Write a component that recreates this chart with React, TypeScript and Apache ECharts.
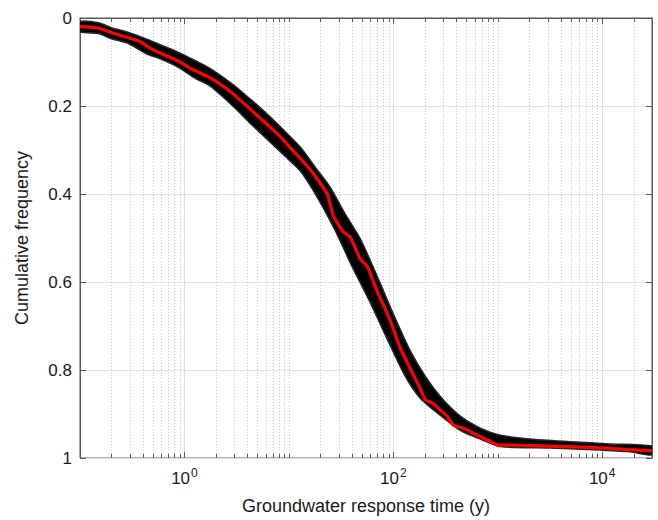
import React, { useEffect, useRef } from 'react';
import * as echarts from 'echarts';

// Median curve (red)
const redX = [0.1, 0.15, 0.2, 0.291, 0.379, 0.45, 0.589, 0.857, 1.22, 1.77, 2.58, 3.67, 5.34, 7.76, 11.0, 16.1, 23.4, 26.7, 33.2, 38.8, 48.3, 56.4, 70.3, 87.6, 100, 117, 145, 181, 202, 241, 282, 329, 375, 467, 637, 794, 989, 1641, 3179, 9570, 30000];
const redY = [0.019, 0.023, 0.033, 0.045, 0.054, 0.066, 0.080, 0.097, 0.118, 0.136, 0.162, 0.193, 0.228, 0.263, 0.302, 0.345, 0.400, 0.450, 0.486, 0.498, 0.548, 0.565, 0.622, 0.672, 0.706, 0.751, 0.796, 0.842, 0.867, 0.876, 0.891, 0.905, 0.925, 0.932, 0.948, 0.959, 0.970, 0.971, 0.973, 0.977, 0.984];

// Ensemble envelope (black band): upper edge and lower edge
const bandTopX = [0.1, 0.15, 0.2, 0.291, 0.423, 0.603, 0.876, 1.27, 1.77, 2.94, 4.3, 6.23, 9, 12.9, 18, 24.9, 34.7, 48.3, 71.8, 104.5, 145, 202, 282, 438, 680, 1057, 2046, 4940, 11900, 30000];
const bandTopY = [0.008, 0.011, 0.022, 0.033, 0.047, 0.062, 0.078, 0.097, 0.115, 0.152, 0.185, 0.219, 0.256, 0.294, 0.340, 0.385, 0.446, 0.502, 0.593, 0.683, 0.756, 0.814, 0.860, 0.905, 0.932, 0.948, 0.957, 0.963, 0.968, 0.973];
const bandBotX = [0.1, 0.15, 0.2, 0.291, 0.423, 0.603, 0.876, 1.27, 1.77, 2.94, 4.3, 6.23, 9, 12.9, 19.2, 27.9, 40.5, 60.2, 89.6, 130, 181, 282, 438, 680, 1057, 3179, 9570, 18500, 30000];
const bandBotY = [0.031, 0.035, 0.047, 0.058, 0.080, 0.094, 0.112, 0.137, 0.155, 0.201, 0.240, 0.276, 0.312, 0.348, 0.412, 0.484, 0.566, 0.647, 0.735, 0.814, 0.864, 0.903, 0.937, 0.957, 0.974, 0.977, 0.982, 0.986, 0.993];

// Axis decoration
const xMajorTicks = [1, 100, 10000];
const xMinorTicks = [0.2, 0.3, 0.4, 0.5, 0.6, 0.7, 0.8, 0.9, 2, 3, 4, 5, 6, 7, 8, 9, 10, 20, 30, 40, 50, 60, 70, 80, 90, 200, 300, 400, 500, 600, 700, 800, 900, 1000, 2000, 3000, 4000, 5000, 6000, 7000, 8000, 9000, 20000];
const yTicks = [0, 0.2, 0.4, 0.6, 0.8, 1];

const FONT = '"Liberation Sans", Arial, Helvetica, sans-serif';
const AXIS_COLOR = '#5a5a5a';

export default function App() {
  const ref = useRef<HTMLDivElement>(null);
  useEffect(() => {
    if (!ref.current) return;
    const chart = echarts.init(ref.current, null, { renderer: 'svg' });
    const gridData = [
      ...xMajorTicks.map((v) => [v, 1]),
      ...xMinorTicks.map((v) => [v, 0]),
    ];
    const option: any = {
      animation: false,
      backgroundColor: '#ffffff',
      textStyle: { fontFamily: FONT },
      grid: {
        left: 80,
        right: 6,
        top: 18,
        bottom: 60,
        show: true,
        borderColor: AXIS_COLOR,
        borderWidth: 1,
        backgroundColor: 'transparent',
      },
      xAxis: {
        type: 'log',
        logBase: 10,
        min: 0.1,
        max: 30000,
        name: 'Groundwater response time (y)',
        nameLocation: 'middle',
        nameGap: 39,
        nameTextStyle: { fontSize: 18, color: '#1a1a1a', fontFamily: FONT },
        axisLine: { show: true, lineStyle: { color: AXIS_COLOR, width: 1 } },
        axisTick: { show: false },
        splitLine: { show: false },
        minorTick: { show: false },
        axisLabel: {
          margin: 9,
          verticalAlign: 'top',
          color: '#1a1a1a',
          fontFamily: FONT,
          formatter: (v: number) => {
            const l = Math.log10(v);
            const e = Math.round(l);
            if (Math.abs(l - e) < 1e-6 && e >= 0 && e % 2 === 0) return `{b|10}{s|${e}}`;
            return '';
          },
          rich: {
            b: { fontSize: 17, fontFamily: FONT, color: '#1a1a1a', lineHeight: 22 },
            s: { fontSize: 12, fontFamily: FONT, color: '#1a1a1a', lineHeight: 12, verticalAlign: 'top', padding: [0, 0, 0, 1] },
          },
        },
      },
      yAxis: [
        {
          type: 'value',
          inverse: true,
          min: 0,
          max: 1,
          interval: 0.2,
          name: 'Cumulative frequency',
          nameLocation: 'middle',
          nameGap: 49,
          nameTextStyle: { fontSize: 18, color: '#1a1a1a', fontFamily: FONT },
          axisLine: { show: true, lineStyle: { color: AXIS_COLOR, width: 1 } },
          axisTick: { show: true, inside: true, length: 6, lineStyle: { color: AXIS_COLOR } },
          axisLabel: {
            margin: 8,
            fontSize: 17,
            color: '#1a1a1a',
            fontFamily: FONT,
            formatter: (v: number) => (yTicks.indexOf(Math.round(v * 10) / 10) >= 0 ? String(Math.round(v * 10) / 10) : ''),
          },
          splitLine: { show: true, lineStyle: { color: '#e2e2e2', width: 1 } },
        },
        {
          type: 'value',
          inverse: true,
          min: 0,
          max: 1,
          interval: 0.2,
          position: 'right',
          axisLine: { show: true, lineStyle: { color: AXIS_COLOR, width: 1 } },
          axisTick: { show: true, inside: true, length: 6, lineStyle: { color: AXIS_COLOR } },
          axisLabel: { show: false },
          splitLine: { show: false },
        },
      ],
      series: [
        {
          type: 'custom',
          name: 'xgrid',
          z: 1,
          silent: true,
          data: gridData,
          encode: { x: 0 },
          renderItem: (params: any, api: any) => {
            const v = api.value(0);
            const major = api.value(1) === 1;
            const top = api.coord([v, 0]);
            const bot = api.coord([v, 1]);
            const x = Math.round(top[0]) + 0.5;
            const tl = major ? 6 : 4;
            return {
              type: 'group',
              children: [
                {
                  type: 'line',
                  shape: { x1: x, y1: top[1], x2: x, y2: bot[1] },
                  style: major
                    ? { stroke: '#dedede', lineWidth: 1 }
                    : { stroke: '#c6c6c6', lineWidth: 1, lineDash: [1, 2] },
                },
                { type: 'line', shape: { x1: x, y1: bot[1], x2: x, y2: bot[1] - tl }, style: { stroke: AXIS_COLOR, lineWidth: 1 } },
                { type: 'line', shape: { x1: x, y1: top[1], x2: x, y2: top[1] + tl }, style: { stroke: AXIS_COLOR, lineWidth: 1 } },
              ],
            };
          },
        },
        {
          type: 'custom',
          name: 'ensemble',
          z: 2,
          silent: true,
          clip: true,
          data: [[1, 0.5]],
          renderItem: (params: any, api: any) => {
            const pts: number[][] = [];
            for (let i = 0; i < bandTopX.length; i++) pts.push(api.coord([bandTopX[i], bandTopY[i]]));
            for (let i = bandBotX.length - 1; i >= 0; i--) pts.push(api.coord([bandBotX[i], bandBotY[i]]));
            return {
              type: 'polygon',
              shape: { points: pts, smooth: 0.25 },
              style: { fill: '#000000', stroke: '#262626', lineWidth: 1.5, lineJoin: 'round' },
            };
          },
        },
        {
          type: 'line',
          name: 'median',
          z: 3,
          silent: true,
          showSymbol: false,
          symbol: 'none',
          smooth: 0.15,
          data: redX.map((x, i) => [x, redY[i]]),
          lineStyle: { color: '#ff0000', width: 3.2, join: 'round' },
        },
      ],
    };
    chart.setOption(option);
    return () => chart.dispose();
  }, []);
  return (
    <div
      ref={ref}
      style={{ position: 'fixed', left: 0, top: 0, width: 658, height: 520, background: '#ffffff' }}
    />
  );
}
